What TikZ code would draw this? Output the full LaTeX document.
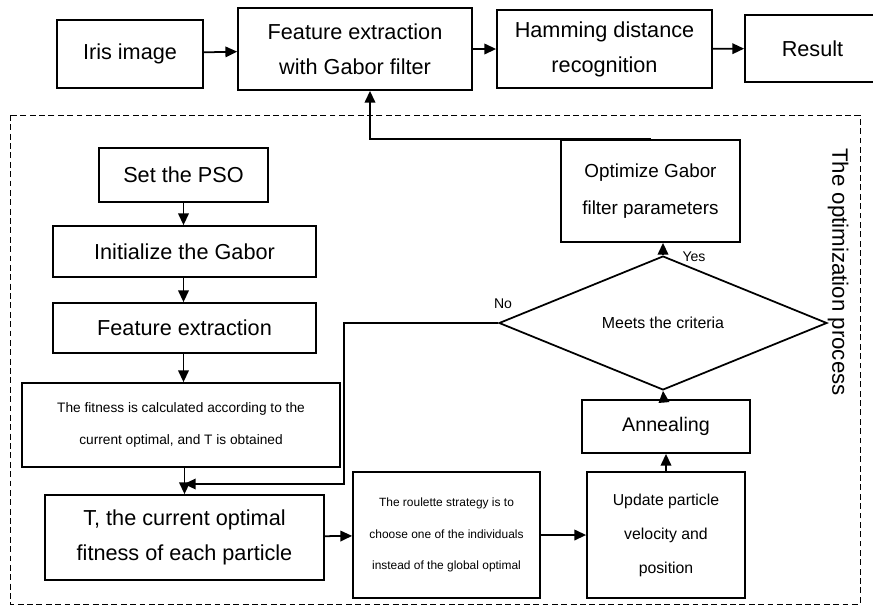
\documentclass[tikz,border=0pt]{standalone}
\usepackage{fontspec}
\setmainfont{Liberation Sans}
\usetikzlibrary{shapes.geometric, arrows.meta, positioning, calc}

\begin{document}
\begin{tikzpicture}[
    x=0.03cm, y=-0.03cm,
    box/.style={draw, line width=1.5pt, align=center, inner sep=2pt,
                font=\fontsize{18.5}{30}\selectfont},
    arrow/.style={-{Triangle[length=10pt, width=9pt]}, line width=1.5pt},
    frame/.style={line width=0.7pt, dash pattern=on 5pt off 3pt},
    lbl/.style={font=\fontsize{12}{13}\selectfont}
]
    \useasboundingbox (0,0) rectangle (873,606);

    % Top row
    \node[box, minimum width=4.38cm, minimum height=2.04cm] (iris) at (130,54) {Iris image};
    \node[box, minimum width=7.02cm, minimum height=2.46cm] (feat) at (355,49) {Feature extraction\\with Gabor filter};
    \node[box, minimum width=6.45cm, minimum height=2.34cm] (hamming) at (604.5,49) {Hamming distance\\recognition};
    \node[box, minimum width=4.05cm, minimum height=2.01cm] (result) at (812.5,48.5) {Result};

    % Optimization frame
    \draw[frame] (10,115) rectangle (860,604);
    \node[rotate=-90, font=\fontsize{19}{20}\selectfont] (title) at (838,272) {The optimization process};

    % Left column
    \node[box, minimum width=5.07cm, minimum height=1.62cm] (pso) at (183.5,175) {Set the PSO};
    \node[box, minimum width=7.89cm, minimum height=1.53cm] (init) at (184.5,251.5) {Initialize the Gabor};
    \node[box, minimum width=7.89cm, minimum height=1.5cm] (fext) at (184.5,328) {Feature extraction};
    \node[box, font=\fontsize{11.7}{27}\selectfont, minimum width=9.54cm, minimum height=2.52cm] (fitness) at (181,425) {The fitness is calculated according to the\\current optimal, and T is obtained};
    \node[box, minimum width=8.37cm, minimum height=2.55cm] (tbest) at (184.5,537.5) {T, the current optimal\\fitness of each particle};

    % Bottom row and right column
    \node[box, font=\fontsize{10.2}{27}\selectfont, minimum width=5.61cm, minimum height=3.78cm] (roulette) at (446.5,535) {The roulette strategy is to\\choose one of the individuals\\instead of the global optimal};
    \node[box, font=\fontsize{13.5}{29}\selectfont, minimum width=4.74cm, minimum height=3.78cm] (update) at (666,535) {Update particle\\velocity and\\position};
    \node[box, font=\fontsize{16.8}{20}\selectfont, minimum width=5.04cm, minimum height=1.59cm] (anneal) at (666,426.5) {Annealing};
    \node[draw, diamond, line width=1.5pt, inner sep=0pt, font=\fontsize{13.6}{15}\selectfont,
          minimum width=9.84cm, minimum height=3.3cm] (crit) at (663,323) {Meets the criteria};
    \node[box, font=\fontsize{16.1}{31}\selectfont, minimum width=5.37cm, minimum height=3.06cm] (opt) at (650.5,191) {Optimize Gabor\\filter parameters};

    \coordinate (fbin) at ($(feat.south)+(15,0)$);
    \coordinate (nojoin) at (184,484);

    % Arrows - top row
    \draw[arrow] (iris) -- (feat);
    \draw[arrow] (feat) -- (hamming);
    \draw[arrow] (hamming) -- (result);

    % Arrows - left column
    \draw[arrow] (pso) -- (pso |- init.north);
    \draw[arrow] (pso |- init.south) -- (pso |- fext.north);
    \draw[arrow] (pso |- fext.south) -- (pso |- fitness.north);
    \draw[arrow] (tbest.north |- fitness.south) -- (tbest.north);

    % Arrows - loop
    \draw[arrow] (tbest) -- (roulette);
    \draw[arrow] (roulette) -- (update);
    \draw[arrow] (update) -- (anneal);
    \draw[arrow] (anneal) -- (crit.south);
    \draw[arrow] (crit.north) -- (crit.north |- opt.south);
    \node[lbl] (yes) at (694,257) {Yes};
    \draw[arrow] (crit.west) -- ++(-154,0) |- (nojoin);
    \node[lbl] (no) at (503,304) {No};
    \draw[arrow] (opt.north) -| (fbin);
\end{tikzpicture}
\end{document}
